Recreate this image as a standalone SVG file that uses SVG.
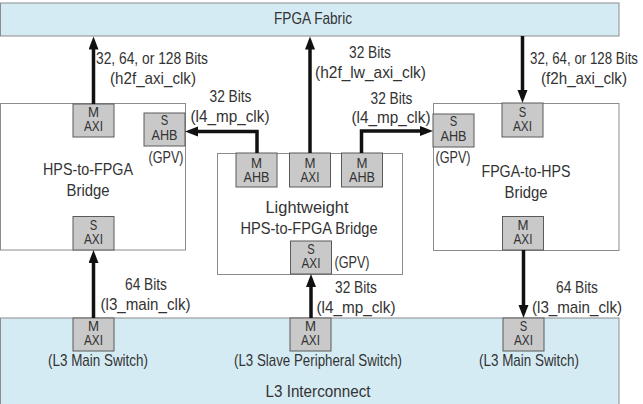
<svg xmlns="http://www.w3.org/2000/svg" width="643" height="404" viewBox="0 0 643 404">
<defs>
<style>
text{font-family:"Liberation Sans",Arial,sans-serif;fill:#333;text-anchor:middle}
.t{font-size:17px}
.b{font-size:15px}
.bar{fill:#d5ebf3;stroke:#8c8c8c;stroke-width:1}
.br{fill:#fff;stroke:#8c8c8c;stroke-width:1}
.ip{fill:#c9c9c9;stroke:#5a5a5a;stroke-width:1}
.c{fill:none;stroke:#111;stroke-width:3.5}
</style>
<marker id="ah" markerUnits="userSpaceOnUse" markerWidth="14" markerHeight="11" refX="3" refY="5" orient="auto">
<path d="M0,0 L13,5 L0,10 z" fill="#111"/>
</marker>
</defs>

<g id="fpga-fabric">
<rect class="bar" x="0.5" y="3" width="618.5" height="33"/>
<text class="t" x="313" y="24" textLength="78" lengthAdjust="spacingAndGlyphs">FPGA Fabric</text>
</g>

<g id="l3-interconnect">
<rect class="bar" x="0.5" y="318" width="618.5" height="92"/>
<text class="t" x="318" y="397" textLength="105" lengthAdjust="spacingAndGlyphs">L3 Interconnect</text>
</g>

<g id="hps-to-fpga">
<rect class="br" x="0.5" y="103.5" width="185" height="146.5"/>
<text class="t" x="88" y="175" textLength="90" lengthAdjust="spacingAndGlyphs">HPS-to-FPGA</text>
<text class="t" x="88" y="196" textLength="43" lengthAdjust="spacingAndGlyphs">Bridge</text>
</g>

<g id="lightweight">
<rect class="br" x="217.5" y="153.5" width="185" height="121"/>
<text class="t" x="307" y="213" textLength="83" lengthAdjust="spacingAndGlyphs">Lightweight</text>
<text class="t" x="309" y="234" textLength="137" lengthAdjust="spacingAndGlyphs">HPS-to-FPGA Bridge</text>
</g>

<g id="fpga-to-hps">
<rect class="br" x="433.5" y="103.5" width="185.5" height="147"/>
<text class="t" x="526" y="177" textLength="89" lengthAdjust="spacingAndGlyphs">FPGA-to-HPS</text>
<text class="t" x="526" y="198" textLength="43" lengthAdjust="spacingAndGlyphs">Bridge</text>
</g>

<g id="h2f-m-axi">
<rect class="ip" x="73" y="104" width="41" height="33"/>
<text class="b" x="93.5" y="117" textLength="11" lengthAdjust="spacingAndGlyphs">M</text>
<text class="b" x="93.5" y="131" textLength="19" lengthAdjust="spacingAndGlyphs">AXI</text>
</g>
<g id="h2f-s-ahb">
<rect class="ip" x="144" y="113" width="41" height="33"/>
<text class="b" x="164.5" y="125" textLength="7.5" lengthAdjust="spacingAndGlyphs">S</text>
<text class="b" x="164.5" y="140" textLength="26" lengthAdjust="spacingAndGlyphs">AHB</text>
<text class="t" x="166" y="163" textLength="35" lengthAdjust="spacingAndGlyphs">(GPV)</text>
</g>
<g id="h2f-s-axi">
<rect class="ip" x="73" y="216.5" width="41" height="33.5"/>
<text class="b" x="93.5" y="230" textLength="7.5" lengthAdjust="spacingAndGlyphs">S</text>
<text class="b" x="93.5" y="244" textLength="19" lengthAdjust="spacingAndGlyphs">AXI</text>
</g>

<g id="lw-m-ahb-left">
<rect class="ip" x="236" y="153" width="41" height="34"/>
<text class="b" x="256.5" y="168" textLength="11" lengthAdjust="spacingAndGlyphs">M</text>
<text class="b" x="256.5" y="182" textLength="26" lengthAdjust="spacingAndGlyphs">AHB</text>
</g>
<g id="lw-m-axi">
<rect class="ip" x="289.5" y="153" width="41" height="34"/>
<text class="b" x="310" y="168" textLength="11" lengthAdjust="spacingAndGlyphs">M</text>
<text class="b" x="310" y="182" textLength="19" lengthAdjust="spacingAndGlyphs">AXI</text>
</g>
<g id="lw-m-ahb-right">
<rect class="ip" x="341.5" y="153" width="41" height="34"/>
<text class="b" x="362" y="168" textLength="11" lengthAdjust="spacingAndGlyphs">M</text>
<text class="b" x="362" y="182" textLength="26" lengthAdjust="spacingAndGlyphs">AHB</text>
</g>
<g id="lw-s-axi">
<rect class="ip" x="290.5" y="241" width="41" height="33"/>
<text class="b" x="311" y="254" textLength="7.5" lengthAdjust="spacingAndGlyphs">S</text>
<text class="b" x="311" y="268" textLength="19" lengthAdjust="spacingAndGlyphs">AXI</text>
<text class="t" x="352" y="268" textLength="35" lengthAdjust="spacingAndGlyphs">(GPV)</text>
</g>

<g id="f2h-s-ahb">
<rect class="ip" x="433" y="114" width="41" height="33"/>
<text class="b" x="453.5" y="126" textLength="7.5" lengthAdjust="spacingAndGlyphs">S</text>
<text class="b" x="453.5" y="141" textLength="26" lengthAdjust="spacingAndGlyphs">AHB</text>
<text class="t" x="453" y="163" textLength="35" lengthAdjust="spacingAndGlyphs">(GPV)</text>
</g>
<g id="f2h-s-axi">
<rect class="ip" x="502" y="103" width="41" height="34"/>
<text class="b" x="522.5" y="117" textLength="7.5" lengthAdjust="spacingAndGlyphs">S</text>
<text class="b" x="522.5" y="131" textLength="19" lengthAdjust="spacingAndGlyphs">AXI</text>
</g>
<g id="f2h-m-axi">
<rect class="ip" x="502.5" y="216.5" width="41" height="33.5"/>
<text class="b" x="523" y="230" textLength="11" lengthAdjust="spacingAndGlyphs">M</text>
<text class="b" x="523" y="244" textLength="19" lengthAdjust="spacingAndGlyphs">AXI</text>
</g>

<g id="l3-main-left">
<rect class="ip" x="73" y="318" width="41" height="33"/>
<text class="b" x="93.5" y="331" textLength="11" lengthAdjust="spacingAndGlyphs">M</text>
<text class="b" x="93.5" y="345" textLength="19" lengthAdjust="spacingAndGlyphs">AXI</text>
<text class="t" x="98" y="366" textLength="100" lengthAdjust="spacingAndGlyphs">(L3 Main Switch)</text>
</g>
<g id="l3-slave-periph">
<rect class="ip" x="290" y="318" width="41" height="33"/>
<text class="b" x="310.5" y="331" textLength="11" lengthAdjust="spacingAndGlyphs">M</text>
<text class="b" x="310.5" y="345" textLength="19" lengthAdjust="spacingAndGlyphs">AXI</text>
<text class="t" x="318" y="366" textLength="168" lengthAdjust="spacingAndGlyphs">(L3 Slave Peripheral Switch)</text>
</g>
<g id="l3-main-right">
<rect class="ip" x="503" y="318" width="41" height="33"/>
<text class="b" x="523.5" y="331" textLength="7.5" lengthAdjust="spacingAndGlyphs">S</text>
<text class="b" x="523.5" y="345" textLength="19" lengthAdjust="spacingAndGlyphs">AXI</text>
<text class="t" x="529" y="366" textLength="100" lengthAdjust="spacingAndGlyphs">(L3 Main Switch)</text>
</g>

<g id="connectors">
<path class="c" d="M93.5,104 V46.5" marker-end="url(#ah)"/>
<path class="c" d="M310,153 V46.5" marker-end="url(#ah)"/>
<path class="c" d="M522.5,36 V93" marker-end="url(#ah)"/>
<path class="c" d="M257,153 V131.5 H195" marker-end="url(#ah)"/>
<path class="c" d="M361.5,153 V131 H423" marker-end="url(#ah)"/>
<path class="c" d="M93.5,318 V260" marker-end="url(#ah)"/>
<path class="c" d="M311,318 V284" marker-end="url(#ah)"/>
<path class="c" d="M523.5,250 V308" marker-end="url(#ah)"/>
</g>

<g id="labels">
<text class="t" x="152" y="64" textLength="112" lengthAdjust="spacingAndGlyphs">32, 64, or 128 Bits</text>
<text class="t" x="153" y="84" textLength="86" lengthAdjust="spacingAndGlyphs">(h2f_axi_clk)</text>
<text class="t" x="370" y="58" textLength="42" lengthAdjust="spacingAndGlyphs">32 Bits</text>
<text class="t" x="370.5" y="78" textLength="111" lengthAdjust="spacingAndGlyphs">(h2f_lw_axi_clk)</text>
<text class="t" x="584" y="64" textLength="108" lengthAdjust="spacingAndGlyphs">32, 64, or 128 Bits</text>
<text class="t" x="584" y="84" textLength="86" lengthAdjust="spacingAndGlyphs">(f2h_axi_clk)</text>
<text class="t" x="230.5" y="102" textLength="42" lengthAdjust="spacingAndGlyphs">32 Bits</text>
<text class="t" x="230" y="122" textLength="79" lengthAdjust="spacingAndGlyphs">(l4_mp_clk)</text>
<text class="t" x="391.5" y="104" textLength="42" lengthAdjust="spacingAndGlyphs">32 Bits</text>
<text class="t" x="391" y="123" textLength="79" lengthAdjust="spacingAndGlyphs">(l4_mp_clk)</text>
<text class="t" x="146" y="290" textLength="42" lengthAdjust="spacingAndGlyphs">64 Bits</text>
<text class="t" x="145.5" y="310" textLength="90" lengthAdjust="spacingAndGlyphs">(l3_main_clk)</text>
<text class="t" x="356" y="293" textLength="42" lengthAdjust="spacingAndGlyphs">32 Bits</text>
<text class="t" x="356" y="313" textLength="79" lengthAdjust="spacingAndGlyphs">(l4_mp_clk)</text>
<text class="t" x="577" y="293" textLength="42" lengthAdjust="spacingAndGlyphs">64 Bits</text>
<text class="t" x="577" y="313" textLength="90" lengthAdjust="spacingAndGlyphs">(l3_main_clk)</text>
</g>
</svg>
